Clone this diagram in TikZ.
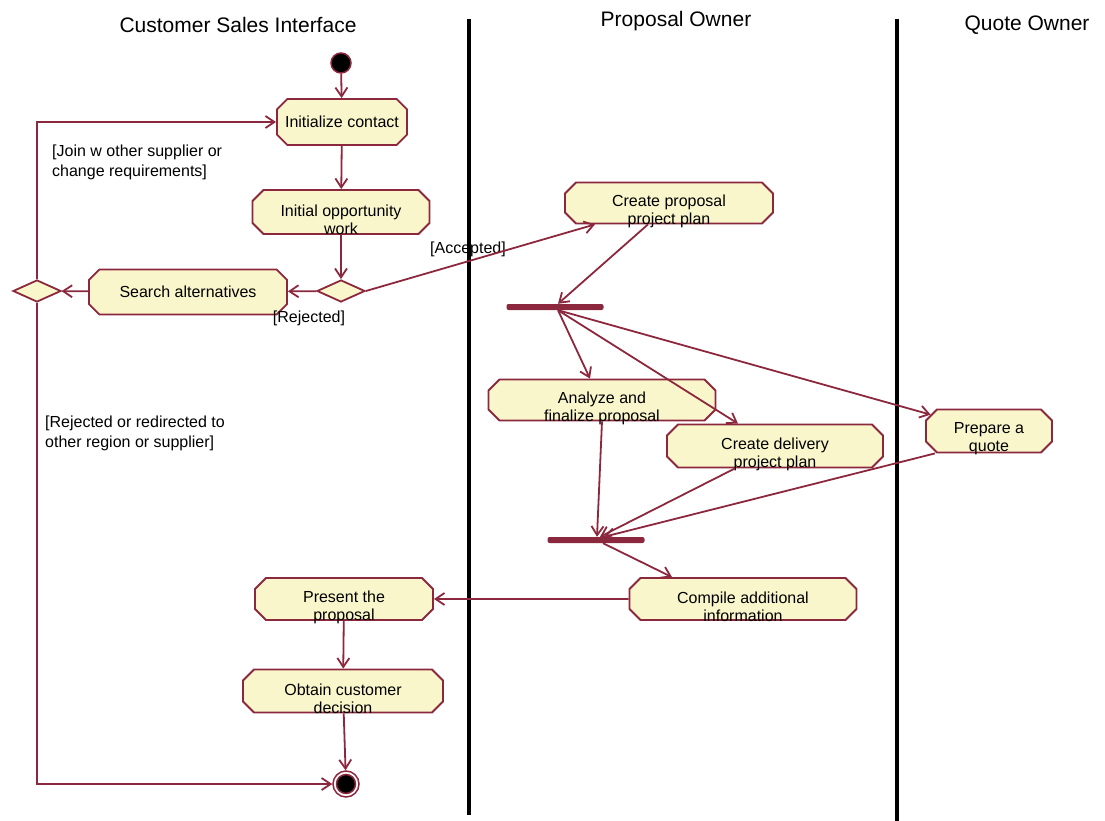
\documentclass[tikz,border=0pt]{standalone}
\usepackage{fontspec}
\setmainfont{Liberation Sans}
\usetikzlibrary{arrows.meta,shapes.misc,shapes.geometric}
\definecolor{umlred}{RGB}{140,40,62}
\definecolor{umlfill}{RGB}{250,246,204}
\tikzset{
    >={Straight Barb[length=9pt,width=12pt]},
    flow/.style={->, draw=umlred, line width=1.8pt},
    activity/.style={chamfered rectangle, chamfered rectangle xsep=11pt,
        draw=umlred, fill=umlfill, line width=1.8pt, align=center,
        inner sep=1pt, font=\fontsize{16}{18}\selectfont},
    acttext/.style={align=center, inner sep=0pt, yshift=-8pt,
        font=\fontsize{16}{18}\selectfont},
    twoline/.style={label={[acttext]center:{#1}}},
    choice/.style={diamond, draw=umlred, fill=umlfill, line width=1.8pt,
        inner sep=0pt, minimum width=48pt, minimum height=22pt},
    bar/.style={fill=umlred, inner sep=0pt, minimum width=97pt,
        minimum height=6pt, rounded corners=2pt},
    startstate/.style={circle, draw=umlred, fill=black, line width=1.5pt,
        minimum size=20pt, inner sep=0pt},
    endstate/.style={circle, draw=umlred, line width=1.5pt, minimum size=26pt,
        inner sep=0pt, path picture={\filldraw[fill=black, draw=umlred, line width=1.5pt]
        (path picture bounding box.center) circle (9.5pt);}},
    lane/.style={line width=4pt, black},
    lanetitle/.style={font=\fontsize{21}{25}\selectfont},
    guard/.style={font=\fontsize{16}{20}\selectfont, align=left, inner sep=0pt},
}

\begin{document}
\begin{tikzpicture}[x=1pt, y=-1pt]
    \useasboundingbox (0,0) rectangle (1105,821);
    % swimlanes
    \draw[lane] (469,19) -- (469,815);
    \draw[lane] (897,19) -- (897,821);
    \node[lanetitle] (tcust) at (238,25) {Customer Sales Interface};
    \node[lanetitle] (tprop) at (676,21) {Proposal Owner};
    \node[lanetitle] (tquote) at (1027,25) {Quote Owner};

    % customer sales interface
    \node[startstate] (start) at (341,63) {};
    \node[activity, minimum width=130pt, minimum height=46pt] (init) at (342,122) {Initialize contact};
    \node[activity, minimum width=177pt, minimum height=44pt,
        twoline={Initial opportunity\\work}] (iow) at (341,212) {\strut};
    \node[choice] (d1) at (341,291) {};
    \node[activity, minimum width=198pt, minimum height=45pt] (search) at (188,292) {\raisebox{-3pt}{Search alternatives}};
    \node[choice] (d2) at (37,291) {};
    \node[activity, minimum width=178pt, minimum height=42pt,
        twoline={Present the\\proposal}] (present) at (344,599) {\strut};
    \node[activity, minimum width=200pt, minimum height=43pt,
        twoline={Obtain customer\\decision}] (obtain) at (343,691) {\strut};
    \node[endstate] (end) at (346,784) {};

    % proposal owner
    \node[activity, minimum width=208pt, minimum height=41pt,
        twoline={Create proposal\\project plan}] (cpp) at (669,203) {\strut};
    \node[bar] (bar1) at (555,307) {};
    \node[activity, minimum width=227pt, minimum height=41pt,
        twoline={Analyze and\\finalize proposal}] (analyze) at (602,400) {\strut};
    \node[activity, minimum width=216pt, minimum height=43pt,
        twoline={Create delivery\\project plan}] (cdp) at (775,446) {\strut};
    \node[bar] (bar2) at (596,540) {};
    \node[activity, minimum width=227pt, minimum height=42pt,
        twoline={Compile additional\\information}] (compile) at (743,599) {\strut};

    % quote owner
    \node[activity, minimum width=126pt, minimum height=43pt,
        twoline={Prepare a\\quote}] (quote) at (989,431) {\strut};

    % guards
    \node[guard] (grej) at (309,318) {[Rejected]};
    \node[guard] (gacc) at (468,249) {[Accepted]};
    \node[guard, anchor=north west] (gjoin) at (52,145) {[Join w other supplier or\\change requirements]};
    \node[guard, anchor=north west] (gredir) at (45,416) {[Rejected or redirected to\\other region or supplier]};

    % flows
    \draw[flow] (start) -- (init);
    \draw[flow] (init) -- (iow);
    \draw[flow] (iow) -- (d1);
    \draw[flow] (d1) -- (search);
    \draw[flow] (d1.east) -- ([xshift=-74pt]cpp.south);
    \draw[flow] (search) -- (d2);
    \draw[flow] (d2.north) |- (init.west);
    \draw[flow] (d2.south) |- (end.west);
    \draw[flow] ([xshift=-21pt]cpp.south) -- ([xshift=3pt]bar1.north);
    \draw[flow] ([xshift=3pt]bar1.south) -- ([xshift=-12pt]analyze.north);
    \draw[flow] ([xshift=3pt]bar1.south) -- ([xshift=-37pt]cdp.north);
    \draw[flow] ([xshift=3pt]bar1.south) -- (quote);
    \draw[flow] (analyze.south) -- ([xshift=1pt]bar2.north);
    \draw[flow] ([xshift=-40pt]cdp.south) -- ([xshift=4pt]bar2.north);
    \draw[flow] ([xshift=-54pt]quote.south) -- ([xshift=8pt]bar2.north);
    \draw[flow] ([xshift=7pt]bar2.south) -- ([xshift=-71pt]compile.north);
    \draw[flow] (compile) -- (present);
    \draw[flow] (present) -- (obtain);
    \draw[flow] (obtain) -- (end);
\end{tikzpicture}
\end{document}
